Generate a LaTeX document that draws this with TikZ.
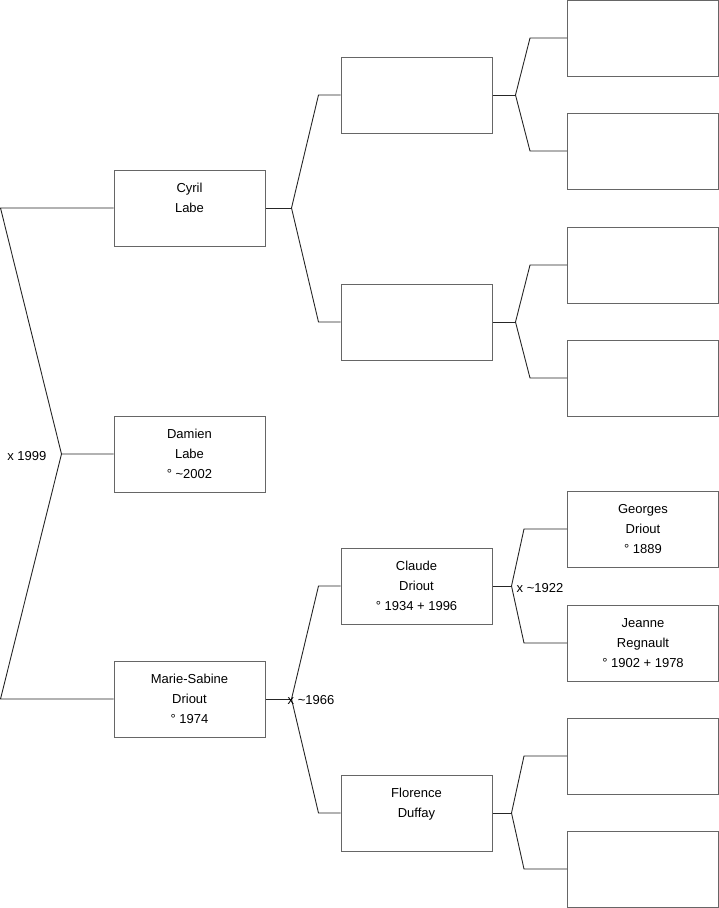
\documentclass[tikz,border=0pt]{standalone}
\usepackage{fontspec}
\setmainfont{Liberation Sans}
\begin{document}
\begin{tikzpicture}[x=1pt,y=-1pt,
  person/.style={draw=black!60, line width=1pt, rectangle, minimum width=151pt, minimum height=76pt, inner sep=0pt, align=center, font=\fontsize{13}{20}\selectfont},
  link/.style={draw=black!85, line width=0.9pt},
  lbl/.style={inner sep=0pt, font=\fontsize{13}{16}\selectfont}]
\useasboundingbox (0,0) rectangle (719,908);
% generation 1
\node[person] (cyril) at (189.5,208) {Cyril\\Labe\\\mbox{}};
\node[person] (damien) at (189.5,454) {Damien\\Labe\\° \textasciitilde2002};
\node[person] (marie) at (189.5,699) {Marie-Sabine\\Driout\\° 1974};
% generation 2
\node[person] (ga) at (416.5,95) {};
\node[person] (gb) at (416.5,322) {};
\node[person] (claude) at (416.5,586) {Claude\\Driout\\° 1934 + 1996};
\node[person] (florence) at (416.5,813) {Florence\\Duffay\\\mbox{}};
% generation 3
\node[person] (h1) at (643,38) {};
\node[person] (h2) at (643,151) {};
\node[person] (h3) at (643,265) {};
\node[person] (h4) at (643,378) {};
\node[person] (georges) at (643,529) {Georges\\Driout\\° 1889};
\node[person] (jeanne) at (643,643) {Jeanne\\Regnault\\° 1902 + 1978};
\node[person] (h7) at (643,756) {};
\node[person] (h8) at (643,869) {};
% left connector
\coordinate (j0) at ([xshift=-52pt]damien.west);
\coordinate (c0) at (cyril.west -| 0.5,0);
\coordinate (m0) at (marie.west -| 0.5,0);
\draw[link] (cyril.west) -- (c0) -- (j0) -- (damien.west);
\draw[link] (j0) -- (m0) -- (marie.west);
\node[lbl, anchor=east] (l1999) at ([xshift=-15pt,yshift=-2pt]j0) {x 1999};
% cyril -> parents
\coordinate (j1) at ([xshift=26pt]cyril.east);
\draw[link] (cyril.east) -- (j1);
\draw[link] (j1) -- ([xshift=-22pt]ga.west) -- (ga.west);
\draw[link] (j1) -- ([xshift=-22pt]gb.west) -- (gb.west);
% marie -> parents
\coordinate (j2) at ([xshift=26pt]marie.east);
\draw[link] (marie.east) -- (j2);
\draw[link] (j2) -- ([xshift=-22pt]claude.west) -- (claude.west);
\draw[link] (j2) -- ([xshift=-22pt]florence.west) -- (florence.west);
\node[lbl, anchor=west] (l1966) at ([xshift=-4pt,yshift=-1pt]j2) {x \textasciitilde1966};
% ga -> parents
\coordinate (j3) at ([xshift=23pt]ga.east);
\draw[link] (ga.east) -- (j3);
\draw[link] (j3) -- ([xshift=-37pt]h1.west) -- (h1.west);
\draw[link] (j3) -- ([xshift=-37pt]h2.west) -- (h2.west);
% gb -> parents
\coordinate (j4) at ([xshift=23pt]gb.east);
\draw[link] (gb.east) -- (j4);
\draw[link] (j4) -- ([xshift=-37pt]h3.west) -- (h3.west);
\draw[link] (j4) -- ([xshift=-37pt]h4.west) -- (h4.west);
% claude -> parents
\coordinate (j5) at ([xshift=19pt]claude.east);
\draw[link] (claude.east) -- (j5);
\draw[link] (j5) -- ([xshift=-43pt]georges.west) -- (georges.west);
\draw[link] (j5) -- ([xshift=-43pt]jeanne.west) -- (jeanne.west);
\node[lbl, anchor=west] (l1922) at ([xshift=5pt,yshift=-2pt]j5) {x \textasciitilde1922};
% florence -> parents
\coordinate (j6) at ([xshift=19pt]florence.east);
\draw[link] (florence.east) -- (j6);
\draw[link] (j6) -- ([xshift=-43pt]h7.west) -- (h7.west);
\draw[link] (j6) -- ([xshift=-43pt]h8.west) -- (h8.west);
\end{tikzpicture}
\end{document}
